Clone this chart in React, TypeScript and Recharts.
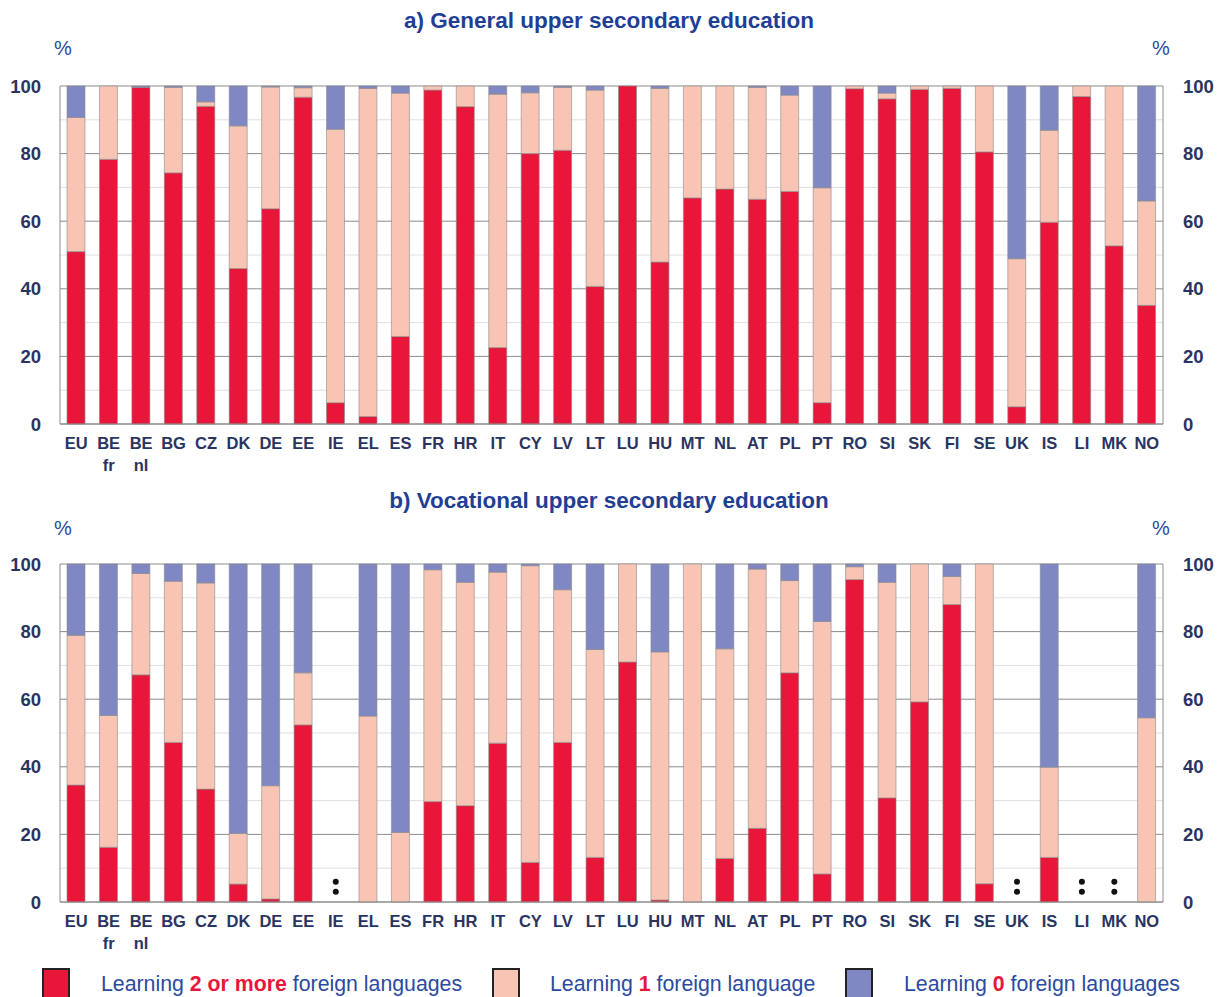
import { BarChart, Bar, XAxis, YAxis, CartesianGrid, ReferenceDot } from 'recharts';

const countries = ['EU', 'BE fr', 'BE nl', 'BG', 'CZ', 'DK', 'DE', 'EE', 'IE', 'EL', 'ES', 'FR', 'HR', 'IT', 'CY', 'LV', 'LT', 'LU', 'HU', 'MT', 'NL', 'AT', 'PL', 'PT', 'RO', 'SI', 'SK', 'FI', 'SE', 'UK', 'IS', 'LI', 'MK', 'NO'];

// a) general upper secondary
const generalTwo = [51, 78.3, 99.6, 74.3, 94, 46, 63.7, 96.7, 6.3, 2.2, 25.9, 98.8, 93.9, 22.6, 80, 81, 40.7, 100, 47.9, 66.9, 69.5, 66.5, 68.8, 6.3, 99.2, 96.2, 99, 99.3, 80.5, 5.1, 59.7, 96.9, 52.7, 35.1];
const generalOne = [39.7, 21.7, 0, 25.3, 1.3, 42.2, 36, 2.8, 80.9, 97.1, 72, 1.2, 6.1, 75, 18, 18.6, 58.1, 0, 51.4, 33.1, 30.5, 33.1, 28.5, 63.6, 0.8, 1.7, 1, 0.7, 19.5, 43.8, 27.2, 3.1, 47.3, 30.9];
const generalZero = [9.3, 0, 0.4, 0.4, 4.7, 11.8, 0.3, 0.5, 12.8, 0.7, 2.1, 0, 0, 2.4, 2, 0.4, 1.2, 0, 0.7, 0, 0, 0.4, 2.7, 30.1, 0, 2.1, 0, 0, 0, 51.1, 13.1, 0, 0, 34];

// b) vocational upper secondary (null = not available)
const vocTwo = [34.6, 16.2, 67.2, 47.2, 33.4, 5.3, 0.9, 52.4, null, 0, 0, 29.7, 28.5, 47, 11.7, 47.2, 13.2, 71, 0.6, 0, 12.9, 21.8, 67.8, 8.3, 95.4, 30.8, 59.2, 88, 5.4, null, 13.2, null, null, 0];
const vocOne = [44.3, 39, 30, 47.7, 61, 15, 33.5, 15.4, null, 55, 20.6, 68.6, 66.1, 50.6, 87.8, 45.2, 61.5, 29, 73.4, 100, 62, 76.7, 27.3, 74.7, 3.8, 63.8, 40.8, 8.3, 94.6, null, 26.7, null, null, 54.5];
const vocZero = [21.1, 44.8, 2.8, 5.1, 5.6, 79.7, 65.6, 32.2, null, 45, 79.4, 1.7, 5.4, 2.4, 0.5, 7.6, 25.3, 0, 26, 0, 25.1, 1.5, 4.9, 17, 0.8, 5.4, 0, 3.7, 0, null, 60.1, null, null, 45.5];

const yTicks = [0, 20, 40, 60, 80, 100];
const minorTicks = [10, 30, 50, 70, 90];

const RED = '#e8173a';
const PINK = '#f8c4b4';
const BLUE = '#8088c4';
const NAVY = '#2a3461';
const TITLE = '#1f3f95';
const TEXT_BLUE = '#2b4aa0';
const FONT = '"Liberation Sans", Arial, sans-serif';

const makeRows = (two: (number | null)[], one: (number | null)[], zero: (number | null)[]) =>
  countries.map((c, i) => ({ code: c, two: two[i], one: one[i], zero: zero[i] }));

const CountryTick = (props: any) => {
  const { x, y, payload } = props;
  const [main, sub] = String(payload.value).split(' ');
  return (
    <g>
      <text x={x} y={y + 23} textAnchor="middle" fill={NAVY} fontSize={16.5} fontWeight="bold" fontFamily={FONT}>{main}</text>
      {sub && <text x={x} y={y + 45} textAnchor="middle" fill={NAVY} fontSize={16.5} fontWeight="bold" fontFamily={FONT}>{sub}</text>}
    </g>
  );
};

const Colon = (props: any) => {
  const { cx, cy } = props;
  return (
    <g>
      <circle cx={cx} cy={cy - 5} r={3} fill="#111" />
      <circle cx={cx} cy={cy + 5} r={3} fill="#111" />
    </g>
  );
};

const Panel = ({ title, rows, top, missing }: { title: string; rows: any[]; top: number; missing: string[] }) => {
  const tickStyle = { fill: NAVY, fontSize: 18.5, fontWeight: 'bold', fontFamily: FONT };
  return (
    <div style={{ position: 'relative', width: 1218, height: 480 }}>
      <div style={{ position: 'absolute', top: 8, left: 0, width: 1218, textAlign: 'center', color: TITLE, fontFamily: FONT, fontWeight: 'bold', fontSize: 22.5 }}>{title}</div>
      <div style={{ position: 'absolute', top: 37, left: 54, color: TEXT_BLUE, fontFamily: FONT, fontSize: 20 }}>%</div>
      <div style={{ position: 'absolute', top: 37, left: 1152, color: TEXT_BLUE, fontFamily: FONT, fontSize: 20 }}>%</div>
      <BarChart width={1218} height={480} data={rows} margin={{ top, right: 0, bottom: 0, left: 0 }} barSize={18}>
        <CartesianGrid yAxisId="left" vertical={false} stroke="#e0e0e0" horizontalValues={minorTicks} />
        <CartesianGrid yAxisId="left" vertical={false} stroke="#8c8c8c" horizontalValues={yTicks} />
        <XAxis dataKey="code" interval={0} tickLine={false} axisLine={{ stroke: '#8c8c8c' }} tickSize={0} height={480 - top - (422 - 84)} tick={<CountryTick />} />
        <YAxis yAxisId="left" domain={[0, 100]} ticks={yTicks} width={60} tickSize={0} tickMargin={19} tickLine={false} axisLine={{ stroke: '#8c8c8c' }} tick={tickStyle} />
        <YAxis yAxisId="right" orientation="right" domain={[0, 100]} allowDataOverflow ticks={yTicks} width={55} tickSize={0} tickMargin={20} tickLine={false} axisLine={{ stroke: '#8c8c8c' }} tick={tickStyle} />
        <Bar yAxisId="left" dataKey="two" stackId="s" fill={RED} stroke="#8a8a8a" strokeWidth={0.6} isAnimationActive={false} />
        <Bar yAxisId="left" dataKey="one" stackId="s" fill={PINK} stroke="#8a8a8a" strokeWidth={0.6} isAnimationActive={false} />
        <Bar yAxisId="left" dataKey="zero" stackId="s" fill={BLUE} stroke="#8a8a8a" strokeWidth={0.6} isAnimationActive={false} />
        {missing.map((c) => (
          <ReferenceDot key={c} yAxisId="left" x={c} y={4.5} r={0} shape={<Colon />} />
        ))}
      </BarChart>
    </div>
  );
};

const LegendItem = ({ color, left, textLeft, children }: { color: string; left: number; textLeft: number; children: any }) => (
  <>
    <div style={{ position: 'absolute', left, top: 8, width: 28, height: 34, background: color, border: '2px solid #222', boxSizing: 'border-box' }} />
    <div style={{ position: 'absolute', left: textLeft, top: 12, color: TEXT_BLUE, fontFamily: FONT, fontSize: 21.3, whiteSpace: 'nowrap' }}>{children}</div>
  </>
);

export default function App() {
  const generalRows = makeRows(generalTwo, generalOne, generalZero);
  const vocRows = makeRows(vocTwo, vocOne, vocZero);
  const vocMissing = countries.filter((c, i) => vocTwo[i] === null);
  const em = { color: RED, fontWeight: 'bold' as const };
  return (
    <div style={{ position: 'fixed', left: 0, top: 0, width: 1218, height: 997, background: '#fff', overflow: 'hidden' }}>
      <Panel title="a) General upper secondary education" rows={generalRows} top={86} missing={[]} />
      <Panel title="b) Vocational upper secondary education" rows={vocRows} top={84} missing={vocMissing} />
      <div style={{ position: 'relative', height: 37 }}>
        <LegendItem color={RED} left={42} textLeft={101}>Learning <span style={em}>2 or more</span> foreign languages</LegendItem>
        <LegendItem color={PINK} left={492} textLeft={550}>Learning <span style={em}>1</span> foreign language</LegendItem>
        <LegendItem color={BLUE} left={845} textLeft={904}>Learning <span style={em}>0</span> foreign languages</LegendItem>
      </div>
    </div>
  );
}
